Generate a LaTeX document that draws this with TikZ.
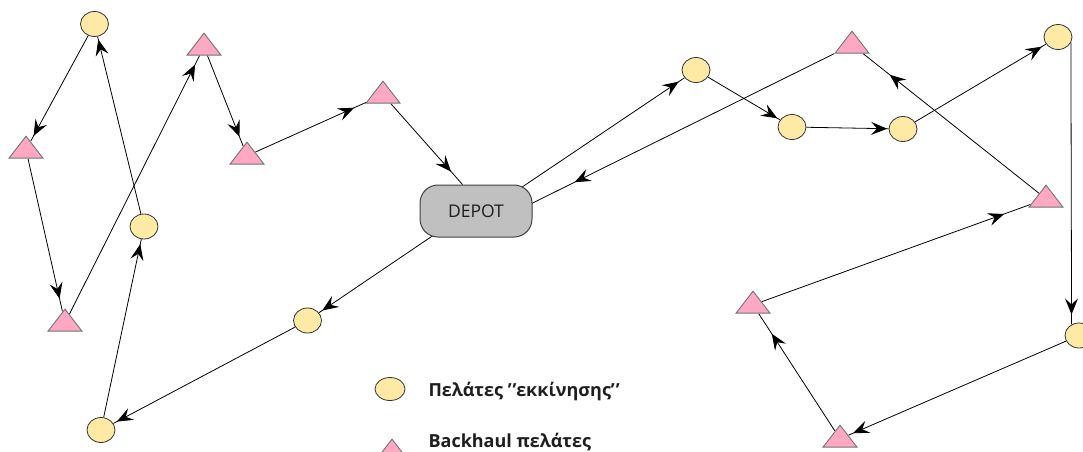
\documentclass[tikz,border=0pt]{standalone}
\usepackage{fontspec}
\setmainfont{Open Sans}
\usetikzlibrary{arrows.meta,shapes.geometric,decorations.markings,backgrounds}
\definecolor{circfill}{RGB}{255,234,165}
\definecolor{trifill}{RGB}{255,168,196}
\definecolor{depfill}{RGB}{192,192,192}
\definecolor{txt}{RGB}{30,30,30}
\begin{document}
\begin{tikzpicture}[x=1pt,y=-1pt,
  cust/.style={ellipse, draw=black!80, fill=circfill, line width=0.8pt,
    minimum width=28pt, minimum height=25pt, inner sep=0pt},
  back/.style={isosceles triangle, isosceles triangle stretches,
    shape border rotate=90, draw=black!55, fill=trifill, line width=0.9pt,
    minimum width=34pt, minimum height=22pt, inner sep=0pt, anchor=apex},
  depotbox/.style={rectangle, rounded corners=18pt, draw=black!75, fill=depfill,
    line width=1pt, minimum width=112pt, minimum height=52pt, text=txt,
    font=\fontsize{17.5}{20}\selectfont},
  route/.style={line width=0.8pt, postaction={decorate},
    decoration={markings, mark=at position -#1pt with
      {\arrow{Stealth[length=16pt,width=13pt,inset=6pt]}}}},
  legtext/.style={anchor=base west, text=txt, font=\bfseries\fontsize{18}{20}\selectfont},
]
\useasboundingbox (0,0) rectangle (1083,451);

% depot
\node[depotbox] (depot) at (476,211) {DEPOT};

% customers (circles)
\node[cust] (C1) at (94.5,24) {};
\node[cust] (C2) at (144,226.5) {};
\node[cust] (C3) at (307.5,320.5) {};
\node[cust] (C4) at (101,430) {};
\node[cust] (C5) at (696,70) {};
\node[cust] (C6) at (792,127) {};
\node[cust] (C7) at (903,129) {};
\node[cust] (C8) at (1058,37) {};
\node[cust] (C9) at (1079,335.5) {};

% backhaul (triangles), placed by apex
\node[back] (T1) at (26,135) {};
\node[back] (T2) at (204,32) {};
\node[back] (T3) at (247,141) {};
\node[back] (T4) at (383,80) {};
\node[back] (T5) at (65,308) {};
\node[back] (T6) at (852,30) {};
\node[back] (T7) at (1046,184) {};
\node[back] (T8) at (753,290) {};
\node[back] (T9) at (840,424) {};

% legend
\node[cust, minimum width=30pt, minimum height=23pt] (L1) at (390,389) {};
\node[back] (L2) at (392,438) {};
\node[legtext] (L1t) at (425,396) {Πελάτες ’\kern1pt’εκκίνησης’\kern1pt’};
\node[legtext] (L2t) at (425,447) {Backhaul πελάτες};

\begin{scope}[on background layer]
% left route
\draw[route=4, shorten <=-6pt] (depot.210) -- (C3);
\draw[route=4] (C3) -- (C4);
\draw[route=5] (C4) -- (C2);
\draw[route=3] (C2) -- (C1);
\draw[route=6] (C1) -- (T1);
\draw[route=13] (T1) -- (T5);
\draw[route=10] (T5) -- (T2);
\draw[route=10] (T2) -- (T3);
\draw[route=13] (T3) -- (T4);
\draw[route=17] (T4) -- (depot.117);
% right route
\draw[route=7, shorten <=-6pt] (depot.28) -- (C5);
\draw[route=3] (C5) -- (C6);
\draw[route=1.5] (C6) -- (C7);
\draw[route=5] (C7) -- (C8);
\draw[route=10] (C8.-24) -- (C9.124);
\draw[route=5] (C9) -- (T9);
\draw[route=24] (T9) -- (T8);
\draw[route=28] (T8) -- (T7);
\draw[route=34] (T7) -- (T6);
\draw[route=47, shorten >=-6pt] (T6) -- (depot.8);
\end{scope}
\end{tikzpicture}
\end{document}
